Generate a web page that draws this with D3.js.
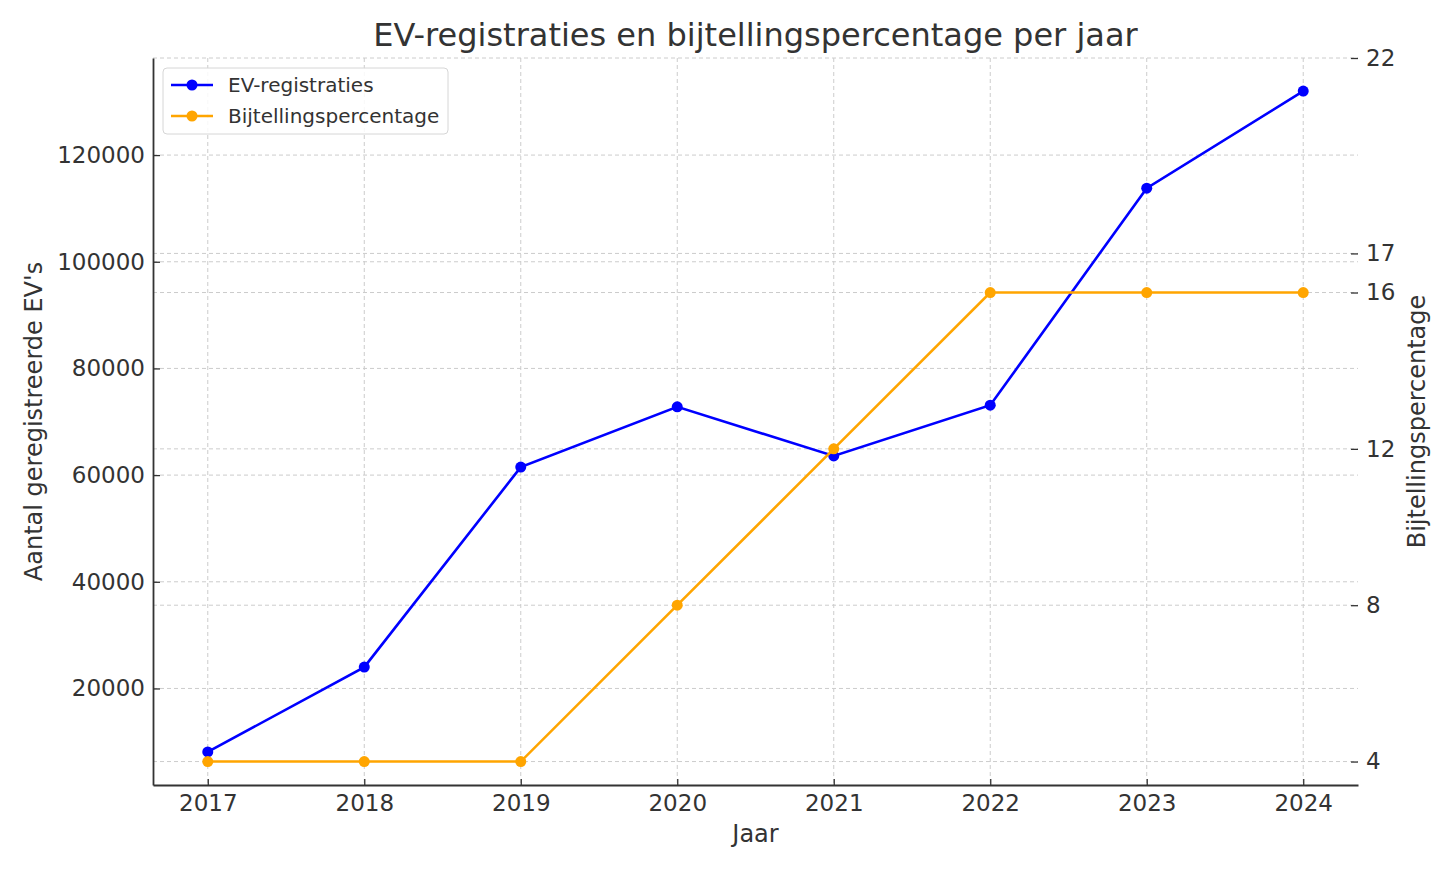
<!DOCTYPE html>
<html>
<head>
<meta charset="utf-8">
<script src="https://cdn.jsdelivr.net/npm/d3@7"></script>
<style>
  body { margin: 0; background: white; }
  text { font-family: "DejaVu Sans", sans-serif; fill: #333; }
</style>
</head>
<body>
<script>
// Data
const years = [2017, 2018, 2019, 2020, 2021, 2022, 2023, 2024];
const evRegistraties = [8100, 24000, 61500, 72800, 63600, 73100, 113800, 132000];
const bijtelling = [4, 4, 4, 8, 12, 16, 16, 16];
const leftTicks = [20000, 40000, 60000, 80000, 100000, 120000];
const rightTicks = [4, 8, 12, 16, 17, 22];

// Set up margins
const margin = {left: 153, top: 58, right: 92, bottom: 85};
const outerWidth = 1450;
const outerHeight = 870;
const width = outerWidth - margin.left - margin.right;
const height = outerHeight - margin.top - margin.bottom;

const svg = d3.select("body").append("svg")
    .attr("width", outerWidth)
    .attr("height", outerHeight);

const canvas = svg.append("g")
    .attr("transform", `translate(${margin.left}, ${margin.top})`);

// Scales
const xScale = d3.scaleLinear().domain([2016.65, 2024.35]).range([0, width]);
const yLeft = d3.scaleLinear().domain([1900, 138200]).range([height, 0]);
const yRight = d3.scaleLinear().domain([3.4, 22]).range([height, 0]);

// Grid
const grid = canvas.append("g")
    .attr("stroke", "#cccccc")
    .attr("stroke-width", 1)
    .attr("stroke-dasharray", "4,3");

grid.selectAll(".vgrid").data(years).join("line")
    .attr("x1", d => xScale(d)).attr("x2", d => xScale(d))
    .attr("y1", 0).attr("y2", height);
grid.selectAll(".lgrid").data(leftTicks).join("line")
    .attr("x1", 0).attr("x2", width)
    .attr("y1", d => yLeft(d)).attr("y2", d => yLeft(d));
grid.selectAll(".rgrid").data(rightTicks).join("line")
    .attr("x1", 0).attr("x2", width)
    .attr("y1", d => yRight(d)).attr("y2", d => yRight(d));

// Axes
const xAxis = d3.axisBottom(xScale).tickValues(years).tickFormat(d3.format("d"))
    .tickSizeInner(-6).tickSizeOuter(0).tickPadding(10);
const yAxisL = d3.axisLeft(yLeft).tickValues(leftTicks).tickFormat(d3.format("d"))
    .tickSizeInner(-7).tickSizeOuter(0).tickPadding(8);
const yAxisR = d3.axisRight(yRight).tickValues(rightTicks)
    .tickSizeInner(-7).tickSizeOuter(0).tickPadding(8);

const xAxisGroup = canvas.append("g")
    .attr("transform", `translate(0, ${height})`)
    .call(xAxis);
const yAxisGroup = canvas.append("g").call(yAxisL);
const yAxisRGroup = canvas.append("g")
    .attr("transform", `translate(${width}, 0)`)
    .call(yAxisR);
yAxisRGroup.select(".domain").remove();

[xAxisGroup, yAxisGroup, yAxisRGroup].forEach(g => {
    g.selectAll("text").style("font-size", "23px").style("font-family", "DejaVu Sans").attr("fill", "#333");
    g.selectAll("line").attr("stroke", "#333").attr("stroke-width", 1.3);
    g.select(".domain").attr("stroke", "#333").attr("stroke-width", 1.8);
});

// Lines
const lineEV = d3.line().x((d, i) => xScale(years[i])).y(d => yLeft(d));
const lineBij = d3.line().x((d, i) => xScale(years[i])).y(d => yRight(d));

canvas.append("path").datum(evRegistraties)
    .attr("fill", "none").attr("stroke", "#0000ff").attr("stroke-width", 2.6)
    .attr("d", lineEV);
canvas.selectAll(".ev-point").data(evRegistraties).join("circle")
    .attr("class", "ev-point")
    .attr("cx", (d, i) => xScale(years[i])).attr("cy", d => yLeft(d))
    .attr("r", 5.5).attr("fill", "#0000ff");

canvas.append("path").datum(bijtelling)
    .attr("fill", "none").attr("stroke", "#ffa500").attr("stroke-width", 2.6)
    .attr("d", lineBij);
canvas.selectAll(".bij-point").data(bijtelling).join("circle")
    .attr("class", "bij-point")
    .attr("cx", (d, i) => xScale(years[i])).attr("cy", d => yRight(d))
    .attr("r", 5.5).attr("fill", "#ffa500");

// Axis labels
svg.append("text")
    .text("Jaar")
    .attr("x", margin.left + width / 2).attr("y", 842)
    .attr("text-anchor", "middle")
    .style("font-size", "24px");

svg.append("text")
    .text("Aantal geregistreerde EV's")
    .attr("text-anchor", "middle")
    .attr("transform", `translate(42, ${margin.top + height / 2}) rotate(-90)`)
    .style("font-size", "24px");

svg.append("text")
    .text("Bijtellingspercentage")
    .attr("text-anchor", "middle")
    .attr("transform", `translate(1425, ${margin.top + height / 2}) rotate(-90)`)
    .style("font-size", "24px");

// Title
svg.append("text")
    .text("EV-registraties en bijtellingspercentage per jaar")
    .attr("x", margin.left + width / 2).attr("y", 46)
    .attr("text-anchor", "middle")
    .style("font-size", "32px");

// Legend
const legend = svg.append("g").attr("transform", "translate(163, 68)");
legend.append("rect")
    .attr("width", 285).attr("height", 66).attr("rx", 4)
    .attr("fill", "white").attr("fill-opacity", 0.85)
    .attr("stroke", "#d6d6d6");
const legendItems = [
    {name: "EV-registraties", color: "#0000ff"},
    {name: "Bijtellingspercentage", color: "#ffa500"}
];
legendItems.forEach((item, i) => {
    const row = legend.append("g").attr("transform", `translate(0, ${17 + i * 31})`);
    row.append("line").attr("x1", 8).attr("x2", 50).attr("y1", 0).attr("y2", 0)
        .attr("stroke", item.color).attr("stroke-width", 2.6);
    row.append("circle").attr("cx", 29).attr("cy", 0).attr("r", 5.5).attr("fill", item.color);
    row.append("text").text(item.name).attr("x", 65).attr("y", 7)
        .style("font-size", "20px");
});
</script>
</body>
</html>
